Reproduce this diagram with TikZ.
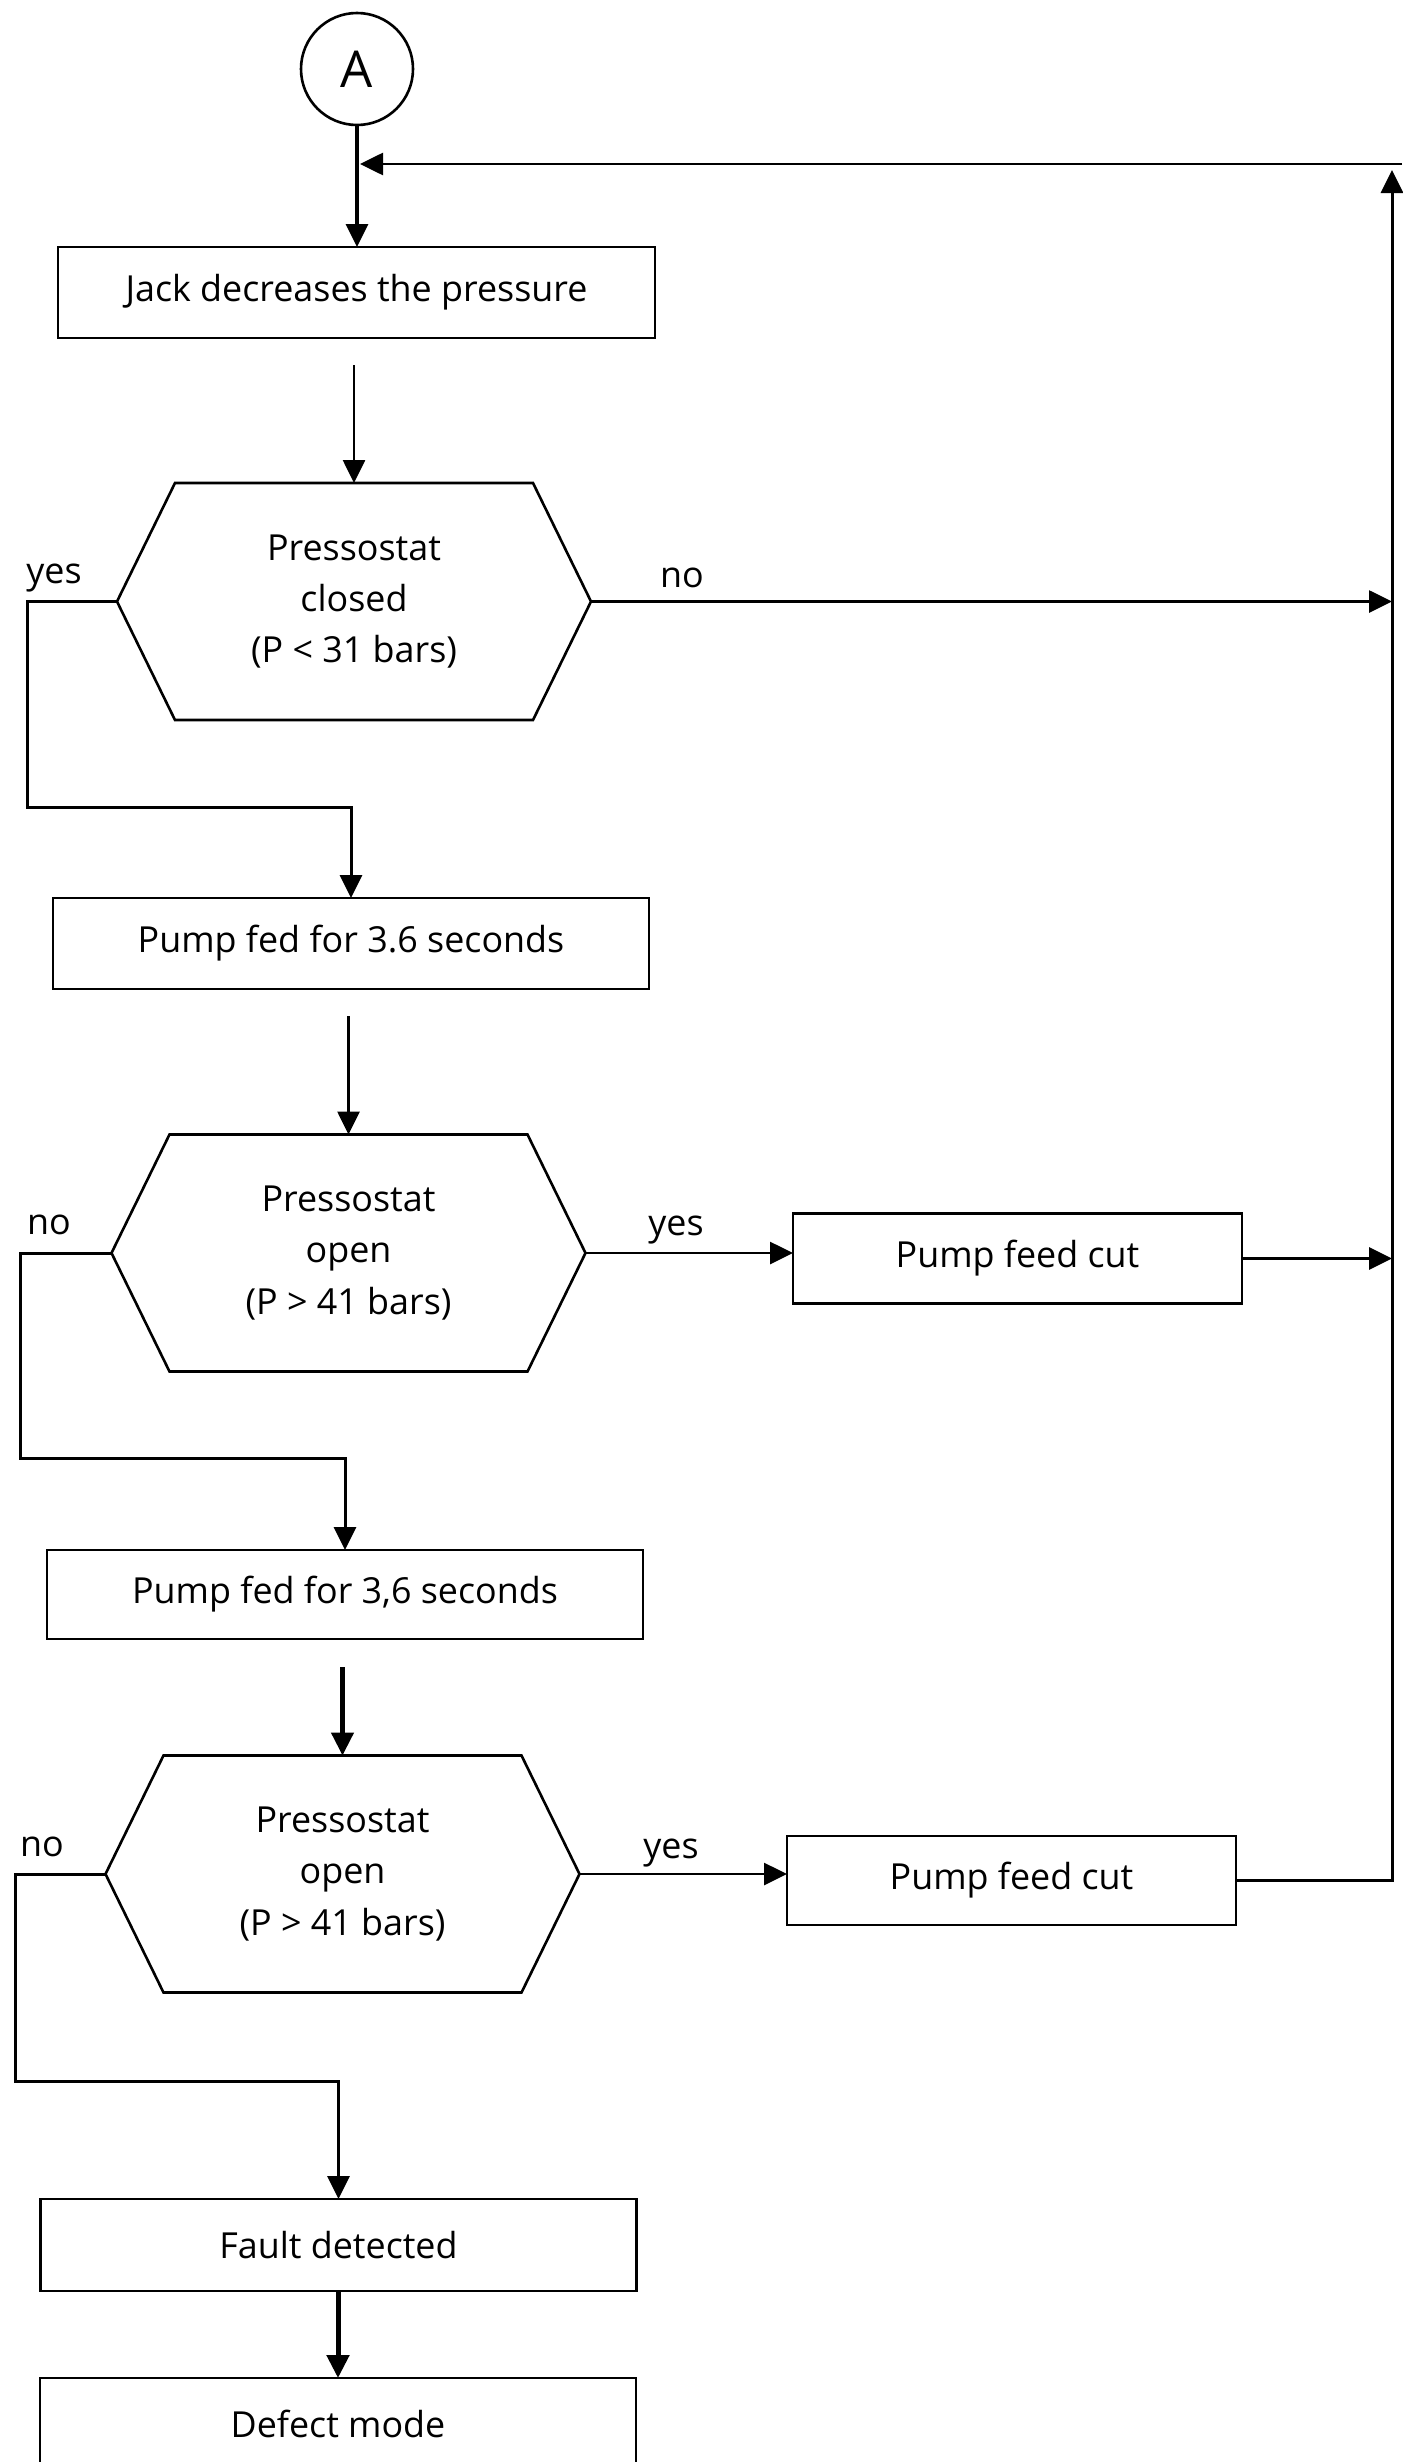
\documentclass[tikz,border=0pt]{standalone}
\usepackage{fontspec}
\setmainfont{Open Sans}
\usetikzlibrary{arrows.meta,calc}
\newcommand\bodyfont{\fontsize{36}{51.5}\selectfont}
\newcommand\drawhex[1]{\draw[shapeline] ([xshift=58bp]#1.north west) -- ([xshift=-58bp]#1.north east) -- (#1.east) -- ([xshift=-58bp]#1.south east) -- ([xshift=58bp]#1.south west) -- (#1.west) -- cycle;}
\begin{document}
\begin{tikzpicture}[x=1bp,y=-1bp,
  shapeline/.style={line width=2.6bp},
  box/.style={draw, shapeline, minimum width=596bp, minimum height=91bp, inner sep=0pt, outer sep=0pt, font=\bodyfont},
  cutbox/.style={box, minimum width=449bp, minimum height=90bp},
  hexnode/.style={minimum width=474bp, minimum height=237bp, inner sep=0pt, outer sep=0pt, align=center, font=\bodyfont},
  conn/.style={line width=2.7bp, -{Triangle[length=23bp,width=22bp]}},
  lbl/.style={font=\bodyfont, anchor=base, inner sep=0pt}]
\useasboundingbox (0,0) rectangle (1403,2462);
\clip (0,0) rectangle (1403,2462);
\fill[white] (0,0) rectangle (1403,2462);

% nodes
\node[draw, circle, shapeline, minimum size=112bp, inner sep=0pt, font=\fontsize{51}{60}\selectfont] (A) at (357,69) {A};
\node[box, minimum width=597bp] (box1) at (356.5,292.5) {Jack decreases the pressure};
\node[hexnode] (h1) at (354,601.5) {Pressostat\\closed\\(P < 31 bars)};
\drawhex{h1}
\node[box] (box2) at (351,943.5) {Pump fed for 3.6 seconds};
\node[hexnode] (h2) at (348.5,1253) {Pressostat\\open\\(P > 41 bars)};
\drawhex{h2}
\node[cutbox] (pfc1) at (1017.5,1258.5) {Pump feed cut};
\node[box, minimum height=89bp] (box3) at (345,1594.5) {Pump fed for 3,6 seconds};
\node[hexnode] (h3) at (342.5,1874) {Pressostat\\open\\(P > 41 bars)};
\drawhex{h3}
\node[cutbox, minimum height=89bp] (pfc2) at (1011.5,1880.5) {Pump feed cut};
\node[box, minimum height=92bp] (box4) at (338.5,2245) {Fault detected};
\node[box, minimum height=92bp] (box5) at (338,2424) {Defect mode};

% labels
\node[lbl] (lyes1) at (54,583) {yes};
\node[lbl] (lno1) at (682,587) {no};
\node[lbl] (lno2) at (49,1234) {no};
\node[lbl] (lyes2) at (676,1235) {yes};
\node[lbl] (lno3) at (42,1856) {no};
\node[lbl] (lyes3) at (671,1858) {yes};

% helper coordinates
\coordinate (loopR) at (1402,164);
\coordinate (busT) at (1392,170);
\coordinate (y1b) at (27,807);
\coordinate (n2b) at (20,1458);
\coordinate (n3b) at (15,2081);

% connectors
\draw[conn, line width=3.4bp] (A.south) -- (A.south |- box1.north);
\draw[conn, shorten >=3bp] (loopR) -- (A.south |- loopR);
\draw[conn, shorten <=27bp] (h1.north |- box1.south) -- (h1.north);
\draw[conn] (h1.east) -- (h1.east -| busT);
\draw[conn, line width=3bp] (h1.west) -| (y1b) -| (box2.north);
\draw[conn, shorten <=27bp] (h2.north |- box2.south) -- (h2.north);
\draw[conn] (h2.east) -- (h2.east -| pfc1.west);
\draw[conn, line width=3bp] (pfc1.east) -- (pfc1.east -| busT);
\draw[conn, line width=3bp] (h2.west) -| (n2b) -| (box3.north);
\draw[conn, line width=4.5bp, shorten <=28bp] (h3.north |- box3.south) -- (h3.north);
\draw[conn] (h3.east) -- (h3.east -| pfc2.west);
\draw[conn, line width=3bp] (pfc2.east) -- (pfc2.east -| busT) -- (busT);
\draw[conn, line width=3bp] (h3.west) -| (n3b) -| (box4.north);
\draw[conn, line width=5bp] (box5.north |- box4.south) -- (box5.north);
\end{tikzpicture}
\end{document}
